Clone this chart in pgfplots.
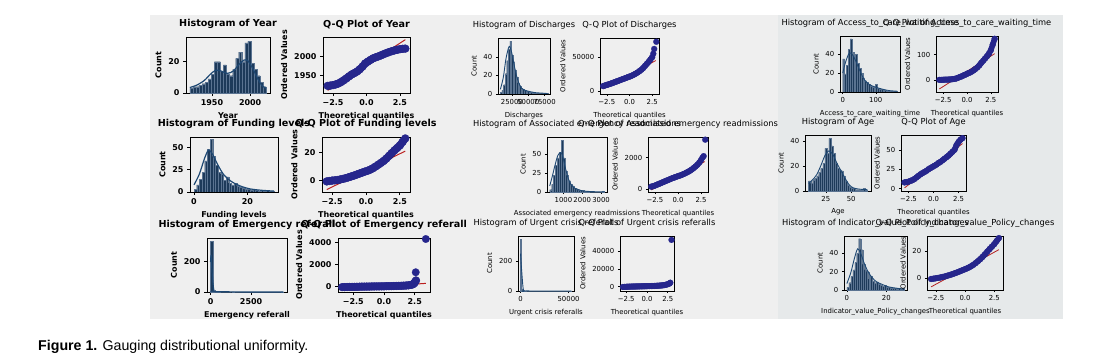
\documentclass[border=0pt]{standalone}
\usepackage{fontspec}
\setmainfont{DejaVu Sans}
\newfontfamily\capfont{Liberation Sans}
\usepackage{pgfplots}
\pgfplotsset{compat=1.18}

\definecolor{panel}{RGB}{239,239,239}
\definecolor{panelc}{RGB}{230,233,234}
\definecolor{histfill}{RGB}{29,58,90}
\definecolor{histedge}{RGB}{90,115,145}
\definecolor{kdecol}{RGB}{30,72,115}
\definecolor{qqblue}{RGB}{38,38,140}
\definecolor{qqred}{RGB}{200,35,35}

\newcommand{\fTa}{\fontsize{9.6}{11}\selectfont\bfseries}
\newcommand{\fLa}{\fontsize{8}{9.5}\selectfont\bfseries}
\newcommand{\fTb}{\fontsize{8.3}{10}\selectfont}
\newcommand{\fLb}{\fontsize{6.9}{8}\selectfont}

\pgfplotsset{
  base/.style={scale only axis, anchor=north west, scaled ticks=false, tick align=outside,
    xtick pos=left, ytick pos=left, clip=true, title style={yshift=-1pt}},
  colA/.style={base, axis line style={line width=0.8pt}, tick style={line width=0.8pt, black},
    major tick length=3pt, title style={font=\fTa}, label style={font=\fLa}, tick label style={font=\fLa}},
  colB/.style={base, axis line style={line width=0.55pt}, tick style={line width=0.55pt, black},
    major tick length=2.2pt, title style={font=\fTb}, label style={font=\fLb}, tick label style={font=\fLb}},
  hist/.style={ybar interval, fill=histfill, draw=histedge, line width=0.15pt},
  kdeA/.style={smooth, no markers, kdecol, line width=1.2pt},
  kdeB/.style={smooth, no markers, kdecol, line width=0.9pt},
  bandA/.style={qqblue, line width=7.5pt, line join=round, line cap=round, mark=*, mark size=4pt,
    mark options={fill=qqblue, draw=qqblue, line width=0.2pt}},
  bandB/.style={qqblue, line width=5.6pt, line join=round, line cap=round, mark=*, mark size=3pt,
    mark options={fill=qqblue, draw=qqblue, line width=0.2pt}},
  outA/.style={only marks, mark=*, mark size=3.8pt, mark options={fill=qqblue, draw=qqblue, line width=0.2pt}},
  outB/.style={only marks, mark=*, mark size=3pt, mark options={fill=qqblue, draw=qqblue, line width=0.2pt}},
  qqlineA/.style={no markers, qqred, line width=1pt, blend mode=multiply},
  qqlineB/.style={no markers, qqred, line width=0.8pt, blend mode=multiply},
  qqx/.style={xtick={-2.5,0,2.5}, xticklabels={−2.5,0.0,2.5}, xlabel={Theoretical quantiles}, ylabel={Ordered Values}},
}

\begin{document}
\begin{tikzpicture}
\useasboundingbox (0,0) rectangle (1117pt,-364pt);
\fill[white] (0,0) rectangle (1117pt,-364pt);
\fill[panel] (150pt,-15pt) rectangle (1063pt,-319pt);
\fill[panelc] (778pt,-15pt) rectangle (1063pt,-319pt);

% ---------------- Row 1 ----------------
\begin{axis}[colA, at={(186pt,-37pt)}, width=84pt, height=56pt,
  xmin=1916, xmax=2026, ymin=0, ymax=35.7,
  xtick={1950,2000}, xticklabels={1950,2000}, ytick={0,20}, yticklabels={0,20},
  title={Histogram of Year}, xlabel={Year}, ylabel={Count}]
\addplot[hist] coordinates {(1921,3) (1925,4) (1929,4) (1933,5) (1937,6) (1941,7) (1945,9) (1949,12) (1953,20) (1957,20) (1961,14) (1965,18) (1969,12) (1973,11) (1977,15) (1981,22) (1985,26) (1989,20) (1993,32) (1997,33) (2001,19) (2005,15) (2009,11) (2013,7) (2017,4) (2021,0)};
\addplot[kdeA] coordinates {(1921,3.5) (1930,5) (1940,8) (1948,12) (1955,14.5) (1962,14) (1970,12.5) (1978,14) (1985,18) (1992,21) (1997,20.5) (2003,16) (2010,9) (2016,4.5) (2021,3)};
\end{axis}

\begin{axis}[colA, qqx, at={(323pt,-37pt)}, width=87pt, height=56pt,
  xmin=-3.25, xmax=3.25, ymin=1903, ymax=2051,
  ytick={1950,2000}, yticklabels={1950,2000},
  title={Q-Q Plot of Year}]
\addplot[bandA] coordinates {(-2.9,1921.9) (-2.7,1922.6) (-2.5,1923.9) (-2.3,1925.7) (-2.1,1928.2) (-1.9,1932) (-1.7,1936.7) (-1.5,1941.7) (-1.3,1947.1) (-1.1,1952.1) (-0.9,1955.8) (-0.7,1959.9) (-0.5,1965.8) (-0.3,1972.8) (-0.1,1981.1) (0.1,1986) (0.3,1990.5) (0.5,1994.7) (0.7,1997.5) (0.9,2000) (1.1,2002.8) (1.3,2005.9) (1.5,2008.7) (1.7,2011.3) (1.9,2013.6) (2.1,2015.7) (2.3,2017.3) (2.5,2018.8) (2.7,2019.8) (2.9,2020.3)};
\addplot[qqlineA] coordinates {(-2.9,1910) (2.9,2044)};
\end{axis}

\begin{axis}[colB, at={(498pt,-38pt)}, width=52pt, height=56pt,
  xmin=3900, xmax=83100, ymin=0, ymax=60.5,
  xtick={25000,50000,75000}, xticklabels={25000,50000,75000}, ytick={0,20,40}, yticklabels={0,20,40},
  title={Histogram of Discharges}, xlabel={Discharges}, ylabel={Count}]
\addplot[hist] coordinates {(7500,2) (9900,4) (12300,10) (14700,22) (17100,36) (19500,48) (21900,57) (24300,42) (26700,35) (29100,26) (31500,18) (33900,12) (36300,9) (38700,6) (41100,5) (43500,4) (45900,3) (48300,3) (50700,2) (53100,2) (55500,2) (57900,1) (60300,1) (62700,1) (65100,1) (67500,1) (69900,1) (72300,0) (74700,1) (77100,1) (79500,0)};
\addplot[kdeB] coordinates {(7500,5) (12000,18) (16000,38) (20000,50) (22000,51) (25000,44) (28000,33) (32000,20) (36000,11) (40000,6) (45000,4) (50000,3) (60000,1.5) (70000,1) (79500,0.5)};
\end{axis}

\begin{axis}[colB, qqx, at={(600pt,-38pt)}, width=59pt, height=56pt,
  xmin=-3.25, xmax=3.25, ymin=-4000, ymax=78000,
  ytick={0,50000}, yticklabels={0,50000},
  title={Q-Q Plot of Discharges}]
\addplot[bandB] coordinates {(-2.9,7600) (-2.7,8500) (-2.5,9300) (-2.3,10200) (-2.1,11000) (-1.9,12000) (-1.7,13000) (-1.5,14000) (-1.3,15000) (-1.1,16000) (-0.9,17000) (-0.7,18000) (-0.5,19000) (-0.3,20000) (-0.1,21000) (0.1,22000) (0.3,23200) (0.5,24500) (0.7,26000) (0.9,27600) (1.1,29500) (1.3,31500) (1.5,34000) (1.7,37000) (1.9,40000) (2.1,43000) (2.3,46500) (2.5,50000)};
\addplot[outB] coordinates {(2.62,55000) (2.72,62000) (2.95,72500)};
\addplot[qqlineB] coordinates {(-2.9,3500) (2.9,45000)};
\end{axis}

\begin{axis}[colB, at={(840pt,-36pt)}, width=60pt, height=56pt,
  xmin=-8.25, xmax=173.25, ymin=0, ymax=59,
  xtick={0,100}, xticklabels={0,100}, ytick={0,20,40}, yticklabels={0,20,40},
  title={Histogram of Access\_to\_care\_waiting\_time}, xlabel={Access\_to\_care\_waiting\_time}, ylabel={Count}]
\addplot[hist] coordinates {(0,35) (5.5,19) (11,28) (16.5,45) (22,56) (27.5,42) (33,38) (38.5,40) (44,30) (49.5,25) (55,20) (60.5,15) (66,12) (71.5,10) (77,8) (82.5,6) (88,5) (93.5,4) (99,8) (104.5,4) (110,3) (115.5,3) (121,2) (126.5,2) (132,1) (137.5,1) (143,1) (148.5,1) (154,1) (159.5,1) (165,0)};
\addplot[kdeB] coordinates {(0,20) (5,27) (10,33) (18,40) (25,41) (35,36) (45,28) (55,20) (65,13) (80,8) (100,5) (120,3) (140,1.5) (165,0.8)};
\end{axis}

\begin{axis}[colB, qqx, at={(936pt,-36pt)}, width=62pt, height=56pt,
  xmin=-3.25, xmax=3.25, ymin=-48, ymax=174,
  ytick={0,100}, yticklabels={0,100},
  title={Q-Q Plot of Access\_to\_care\_waiting\_time}]
\addplot[bandB] coordinates {(-2.9,0) (-2.7,0) (-2.5,0.5) (-2.3,1) (-2.1,1) (-1.9,1.5) (-1.7,2) (-1.5,3) (-1.3,4) (-1.1,6) (-0.9,9) (-0.7,12) (-0.5,15) (-0.3,19) (-0.1,22) (0.1,26) (0.3,29) (0.5,33) (0.7,38) (0.9,44) (1.1,50) (1.3,58) (1.5,68) (1.7,76) (1.9,85) (2.1,94) (2.3,104) (2.5,118) (2.7,140) (2.9,163)};
\addplot[qqlineB] coordinates {(-2.9,-36) (2.9,104)};
\end{axis}

% ---------------- Row 2 ----------------
\begin{axis}[colA, at={(190pt,-137pt)}, width=88pt, height=55pt,
  xmin=-1.5, xmax=31.5, ymin=0, ymax=61.6,
  xtick={0,20}, xticklabels={0,20}, ytick={0,25,50}, yticklabels={0,25,50},
  title={Histogram of Funding levels}, xlabel={Funding levels}, ylabel={Count}]
\addplot[hist] coordinates {(0,3) (1,8) (2,14) (3,22) (4,35) (5,48) (6,59) (7,40) (8,30) (9,22) (10,20) (11,13) (12,17) (13,10) (14,8) (15,10) (16,7) (17,5) (18,4) (19,3) (20,3) (21,2) (22,3) (23,2) (24,1) (25,2) (26,1) (27,2) (28,1) (29,1) (30,0)};
\addplot[kdeA] coordinates {(0,8) (2,20) (4,38) (5.5,47) (7,42) (9,30) (11,20) (13,14) (15,10) (18,6) (21,3.5) (25,2) (30,1)};
\end{axis}

\begin{axis}[colA, qqx, at={(322pt,-137pt)}, width=88pt, height=55pt,
  xmin=-3.25, xmax=3.25, ymin=-8, ymax=31,
  ytick={0,20}, yticklabels={0,20},
  title={Q-Q Plot of Funding levels}]
\addplot[bandA] coordinates {(-2.9,-0.5) (-2.7,-0.2) (-2.5,0.1) (-2.3,0.3) (-2.1,0.5) (-1.9,0.9) (-1.7,1.3) (-1.5,1.8) (-1.3,2.4) (-1.1,3) (-0.9,3.6) (-0.7,4.3) (-0.5,5) (-0.3,5.7) (-0.1,6.4) (0.1,7) (0.3,7.8) (0.5,8.8) (0.7,10) (0.9,11.3) (1.1,12.6) (1.3,14) (1.5,15.7) (1.7,17.6) (1.9,19.6) (2.1,21.5) (2.3,23.2) (2.5,25) (2.7,27.5) (2.9,30)};
\addplot[qqlineA] coordinates {(-2.9,-6.3) (2.9,21)};
\end{axis}

\begin{axis}[colB, at={(547pt,-137pt)}, width=60pt, height=55pt,
  xmin=126, xmax=3314, ymin=0, ymax=72.4,
  xtick={1000,2000,3000}, xticklabels={1000,2000,3000}, ytick={0,25,50}, yticklabels={0,25,50},
  title={Histogram of Associated emergency readmissions}, xlabel={Associated emergency readmissions}, ylabel={Count}]
\addplot[hist] coordinates {(270,3) (370,10) (470,22) (570,35) (670,45) (770,52) (870,68) (970,45) (1070,28) (1170,22) (1270,15) (1370,10) (1470,8) (1570,5) (1670,4) (1770,3) (1870,2) (1970,2) (2070,1) (2170,1) (2270,1) (2370,0) (3070,1) (3170,0)};
\addplot[kdeB] coordinates {(270,8) (400,20) (550,35) (700,48) (850,52) (950,48) (1100,32) (1250,18) (1400,10) (1600,5) (1800,3) (2000,1.5) (2500,0.5) (3170,0.3)};
\end{axis}

\begin{axis}[colB, qqx, at={(648pt,-137pt)}, width=60pt, height=55pt,
  xmin=-3.25, xmax=3.25, ymin=-190, ymax=3320,
  ytick={0,2000}, yticklabels={0,2000},
  title={Q-Q Plot of Associated emergency readmissions}]
\addplot[bandB] coordinates {(-2.9,150) (-2.7,180) (-2.5,220) (-2.3,270) (-2.1,320) (-1.9,370) (-1.7,420) (-1.5,470) (-1.3,520) (-1.1,570) (-0.9,620) (-0.7,670) (-0.5,710) (-0.3,760) (-0.1,800) (0.1,840) (0.3,880) (0.5,930) (0.7,980) (0.9,1040) (1.1,1100) (1.3,1170) (1.5,1250) (1.7,1340) (1.9,1440) (2.1,1550) (2.3,1680) (2.5,1850)};
\addplot[outB] coordinates {(2.65,2000) (2.78,2100) (2.95,3150)};
\addplot[qqlineB] coordinates {(-2.9,-60) (2.9,1750)};
\end{axis}

\begin{axis}[colB, at={(805pt,-135pt)}, width=66pt, height=56pt,
  xmin=4.5, xmax=69.5, ymin=0, ymax=44.6,
  xtick={25,50}, xticklabels={25,50}, ytick={0,20,40}, yticklabels={0,20,40},
  title={Histogram of Age}, xlabel={Age}, ylabel={Count}]
\addplot[hist] coordinates {(8,8) (10,6) (12,9) (14,10) (16,12) (18,15) (20,18) (22,22) (24,34) (26,30) (28,42) (30,36) (32,30) (34,22) (36,18) (38,17) (40,16) (42,12) (44,8) (46,5) (48,3) (50,2) (52,2) (54,1) (56,1) (58,1) (60,1) (62,2) (64,1) (66,0)};
\addplot[kdeB] coordinates {(8,6) (12,9) (16,13) (20,20) (24,28) (28,32) (32,29) (36,22) (40,16) (44,10) (48,5) (52,2.5) (58,1.5) (66,1)};
\end{axis}

\begin{axis}[colB, qqx, at={(901pt,-135pt)}, width=65pt, height=56pt,
  xmin=-3.25, xmax=3.25, ymin=-3, ymax=69,
  ytick={0,25,50}, yticklabels={0,25,50},
  title={Q-Q Plot of Age}]
\addplot[bandB] coordinates {(-2.9,8) (-2.7,8.5) (-2.5,9) (-2.3,10) (-2.1,11) (-1.9,12.5) (-1.7,14.5) (-1.5,16.5) (-1.3,18.5) (-1.1,20) (-0.9,21.5) (-0.7,23) (-0.5,25) (-0.3,26.5) (-0.1,28) (0.1,29.5) (0.3,31) (0.5,33) (0.7,34.5) (0.9,36.5) (1.1,38.5) (1.3,40.5) (1.5,42.5) (1.7,45) (1.9,47.5) (2.1,50) (2.3,56) (2.5,60) (2.7,63) (2.9,65)};
\addplot[qqlineB] coordinates {(-2.9,1) (2.9,58)};
\end{axis}

% ---------------- Row 3 ----------------
\begin{axis}[colA, at={(207pt,-238pt)}, width=80pt, height=54pt,
  xmin=-220, xmax=4715, ymin=0, ymax=358,
  xtick={0,2500}, xticklabels={0,2500}, ytick={0,200}, yticklabels={0,200},
  title={Histogram of Emergency referall}, xlabel={Emergency referall}, ylabel={Count}]
\addplot[hist] coordinates {(0,335) (145,10) (290,3) (435,1) (580,0) (1305,1) (1450,0) (4350,1) (4495,0)};
\addplot[kdeA, smooth=false] coordinates {(0,200) (40,240) (100,120) (200,15) (400,2) (4495,0.5)};
\end{axis}

\begin{axis}[colA, qqx, at={(338pt,-238pt)}, width=92pt, height=54pt,
  xmin=-3.74, xmax=3.74, ymin=-480, ymax=4390,
  ytick={0,2000,4000}, yticklabels={0,2000,4000},
  title={Q-Q Plot of Emergency referall}]
\addplot[bandA] coordinates {(-3.4,-40) (-3.2,-35) (-3.0,-30) (-2.8,-25) (-2.6,-20) (-2.4,-15) (-2.2,-10) (-2.0,-5) (-1.8,0) (-1.6,5) (-1.4,10) (-1.2,14) (-1.0,18) (-0.8,22) (-0.6,26) (-0.4,30) (-0.2,34) (0,38) (0.2,42) (0.4,47) (0.6,52) (0.8,58) (1.0,65) (1.2,72) (1.4,80) (1.6,90) (1.8,105) (2.0,125) (2.2,160) (2.35,220) (2.45,300) (2.52,420) (2.6,560)};
\addplot[outA] coordinates {(2.58,1300) (3.4,4300)};
\addplot[qqlineA] coordinates {(-3.4,-250) (3.4,300)};
\end{axis}

\begin{axis}[colB, at={(518pt,-236pt)}, width=56pt, height=55pt,
  xmin=-2650, xmax=55650, ymin=0, ymax=367,
  xtick={0,50000}, xticklabels={0,50000}, ytick={0,200}, yticklabels={0,200},
  title={Histogram of Urgent crisis referalls}, xlabel={Urgent crisis referalls}, ylabel={Count}]
\addplot[hist] coordinates {(0,345) (1060,10) (2120,3) (3180,2) (4240,1) (5300,0) (51940,1) (53000,0)};
\addplot[kdeB, smooth=false] coordinates {(0,250) (1000,150) (3000,5) (6000,0.5) (53000,0.3)};
\end{axis}

\begin{axis}[colB, qqx, at={(620pt,-236pt)}, width=54pt, height=55pt,
  xmin=-3.25, xmax=3.25, ymin=-4800, ymax=56850,
  ytick={0,20000,40000}, yticklabels={0,20000,40000},
  title={Q-Q Plot of Urgent crisis referalls}]
\addplot[bandB] coordinates {(-2.9,-300) (-2.7,-200) (-2.5,-100) (-2.3,0) (-2.1,100) (-1.9,150) (-1.7,200) (-1.5,250) (-1.3,300) (-1.1,350) (-0.9,400) (-0.7,450) (-0.5,500) (-0.3,550) (-0.1,600) (0.1,650) (0.3,700) (0.5,750) (0.7,800) (0.9,900) (1.1,1000) (1.3,1100) (1.5,1250) (1.7,1400) (1.9,1600) (2.1,1900) (2.3,2300) (2.5,2800) (2.7,3600) (2.8,4500)};
\addplot[outB] coordinates {(2.95,52500)};
\addplot[qqlineB] coordinates {(-2.9,-1500) (2.9,3500)};
\end{axis}

\begin{axis}[colB, at={(844pt,-236pt)}, width=63pt, height=54pt,
  xmin=-1.45, xmax=30.45, ymin=0, ymax=59,
  xtick={0,20}, xticklabels={0,20}, ytick={0,20,40}, yticklabels={0,20,40},
  title={Histogram of Indicator\_value\_Policy\_changes}, xlabel={Indicator\_value\_Policy\_changes}, ylabel={Count}]
\addplot[hist] coordinates {(0,3) (1,8) (2,15) (3,22) (4,30) (5,40) (6,56) (7,44) (8,28) (9,22) (10,20) (11,12) (12,15) (13,10) (14,8) (15,9) (16,7) (17,5) (18,4) (19,5) (20,3) (21,3) (22,2) (23,2) (24,2) (25,1) (26,2) (27,1) (28,2) (29,0)};
\addplot[kdeB] coordinates {(0,7) (2,19) (4,36) (5.5,45) (7,40) (9,28) (11,19) (13,13) (15,9) (18,6) (21,3.5) (25,2) (29,1)};
\end{axis}

\begin{axis}[colB, qqx, at={(927pt,-236pt)}, width=76pt, height=54pt,
  xmin=-3.25, xmax=3.25, ymin=-8.6, ymax=31,
  ytick={0,20}, yticklabels={0,20},
  title={Q-Q Plot of Indicator\_value\_Policy\_changes}]
\addplot[bandB] coordinates {(-2.9,-0.5) (-2.7,-0.3) (-2.5,0) (-2.3,0.3) (-2.1,0.6) (-1.9,1) (-1.7,1.4) (-1.5,1.9) (-1.3,2.4) (-1.1,3) (-0.9,3.6) (-0.7,4.2) (-0.5,4.9) (-0.3,5.6) (-0.1,6.3) (0.1,7) (0.3,7.8) (0.5,8.7) (0.7,9.8) (0.9,11.1) (1.1,12.5) (1.3,14) (1.5,15.7) (1.7,17.5) (1.9,19.5) (2.1,21.4) (2.3,23.2) (2.5,25) (2.7,27.3) (2.9,29.5)};
\addplot[qqlineB] coordinates {(-2.9,-6.3) (2.9,21)};
\end{axis}

\node[anchor=base west, inner sep=0pt] at (38pt,-350pt) {\capfont\fontsize{14.2}{17}\selectfont\textbf{Figure 1.} Gauging distributional uniformity.};
\end{tikzpicture}
\end{document}
